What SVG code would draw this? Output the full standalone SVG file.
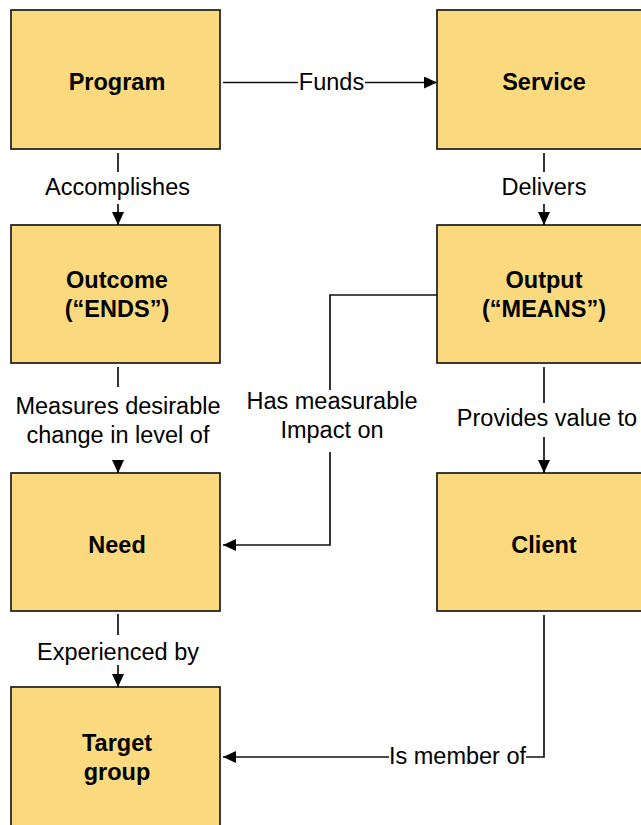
<svg xmlns="http://www.w3.org/2000/svg" width="641" height="825" viewBox="0 0 641 825">
  <style>
    .box { fill: #FBDA7F; stroke: #1c1c1c; stroke-width: 1.7; }
    .title { font-family: "Liberation Sans", Arial, sans-serif; font-size: 23.5px; font-weight: bold; fill: #000; text-anchor: middle; }
    .edge { fill: none; stroke: #111; stroke-width: 1.7; }
    .lbl { font-family: "Liberation Sans", Arial, sans-serif; font-size: 23.5px; fill: #000; text-anchor: middle; }
    .lblbg { fill: #fff; stroke: none; }
  </style>
  <defs>
    <marker id="arrow" viewBox="0 0 13 12" refX="13" refY="6" markerWidth="13" markerHeight="12" markerUnits="userSpaceOnUse" orient="auto">
      <path d="M0,0 L13,6 L0,12 Z" fill="#000"/>
    </marker>
  </defs>
  <rect x="0" y="0" width="641" height="825" fill="#fff"/>

  <!-- nodes -->
  <g id="program">
    <rect class="box" x="11" y="10" width="209" height="139"/>
    <text class="title" x="117" y="90">Program</text>
  </g>
  <g id="service">
    <rect class="box" x="437" y="10" width="212" height="139"/>
    <text class="title" x="544" y="90">Service</text>
  </g>
  <g id="outcome">
    <rect class="box" x="11" y="225" width="209" height="138"/>
    <text class="title" x="117" y="288">Outcome</text>
    <text class="title" x="117" y="316.5">(“ENDS”)</text>
  </g>
  <g id="output">
    <rect class="box" x="437" y="225" width="212" height="138"/>
    <text class="title" x="544" y="288">Output</text>
    <text class="title" x="544" y="316.5">(“MEANS”)</text>
  </g>
  <g id="need">
    <rect class="box" x="11" y="473" width="209" height="138"/>
    <text class="title" x="117" y="553">Need</text>
  </g>
  <g id="client">
    <rect class="box" x="437" y="473" width="212" height="138"/>
    <text class="title" x="544" y="553">Client</text>
  </g>
  <g id="target-group">
    <rect class="box" x="11" y="687" width="209" height="142"/>
    <text class="title" x="117" y="751">Target</text>
    <text class="title" x="117" y="780">group</text>
  </g>

  <!-- connectors -->
  <g id="connectors">
    <path class="edge" d="M223,82.5 H437" marker-end="url(#arrow)"/>
    <path class="edge" d="M118,153 V225" marker-end="url(#arrow)"/>
    <path class="edge" d="M544,153 V225" marker-end="url(#arrow)"/>
    <path class="edge" d="M118,367 V473" marker-end="url(#arrow)"/>
    <path class="edge" d="M437,295 H330 V545 H223" marker-end="url(#arrow)"/>
    <path class="edge" d="M544,367 V473" marker-end="url(#arrow)"/>
    <path class="edge" d="M118,614 V687" marker-end="url(#arrow)"/>
    <path class="edge" d="M544,615 V757 H223" marker-end="url(#arrow)"/>

    <!-- connector labels -->
    <rect class="lblbg" x="298" y="70" width="67" height="24"/>
    <text class="lbl" x="331.5" y="90">Funds</text>

    <rect class="lblbg" x="44" y="172" width="148" height="32"/>
    <text class="lbl" x="117.5" y="195">Accomplishes</text>

    <rect class="lblbg" x="500" y="172" width="90" height="32"/>
    <text class="lbl" x="544" y="195">Delivers</text>

    <rect class="lblbg" x="14" y="387" width="208" height="73"/>
    <text class="lbl" x="118" y="414">Measures desirable</text>
    <text class="lbl" x="118" y="442.5">change in level of</text>

    <rect class="lblbg" x="246" y="390" width="174" height="62"/>
    <text class="lbl" x="332" y="409">Has measurable</text>
    <text class="lbl" x="332" y="437.5">Impact on</text>

    <rect class="lblbg" x="455" y="403" width="184" height="34"/>
    <text class="lbl" x="547" y="426">Provides value to</text>

    <rect class="lblbg" x="37" y="635" width="164" height="30"/>
    <text class="lbl" x="118" y="660">Experienced by</text>

    <rect class="lblbg" x="389" y="745" width="137" height="24"/>
    <text class="lbl" x="457.5" y="764">Is member of</text>
  </g>
</svg>
